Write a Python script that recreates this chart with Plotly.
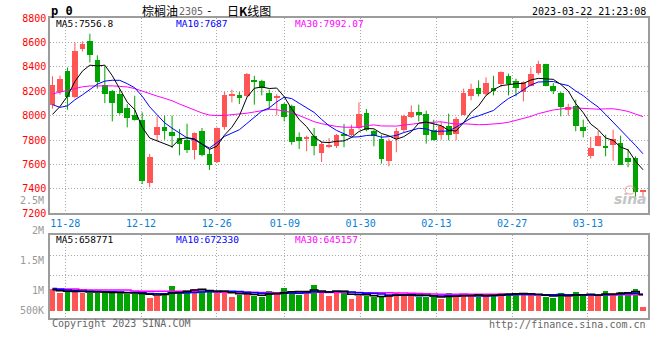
import plotly.graph_objects as go

# ---------------- data ----------------
tick_labels = ["11-28", "12-12", "12-26", "01-09", "01-30", "02-13", "02-27", "03-13"]
tick_index = [2, 12, 22, 31, 41, 51, 61, 71]   # candle index of each labelled date

open_ = [8090, 8194, 8368, 8150, 8545, 8614, 8458, 8253, 8204, 8180,
         8065, 8003, 7964, 7449, 7839, 7904, 7863, 7817, 7803, 7721,
         7872, 7686, 7618, 7904, 8163, 8172, 8158, 8294, 8286, 8185,
         8144, 8095, 8076, 7825, 7812, 7836, 7694, 7741, 7749, 7852,
         7839, 7899, 8022, 7872, 7812, 7631, 7812, 7880, 7986, 8027,
         8016, 7885, 7844, 7918, 7850, 8008, 8158, 8226, 8180, 8226,
         8259, 8327, 8286, 8194, 8245, 8349, 8425, 8245, 8185, 8049,
         8082, 7907, 7667, 7749, 7754, 7757, 7776, 7653, 7653, 7375]
high = [8322, 8327, 8395, 8600, 8608, 8671, 8494, 8404, 8210, 8213,
        8095, 8163, 8027, 7686, 7994, 8000, 8000, 7891, 7934, 7863,
        7899, 7727, 7904, 8194, 8213, 8194, 8349, 8327, 8294, 8213,
        8177, 8103, 8090, 7863, 7836, 7899, 7790, 7817, 7850, 7932,
        7926, 8109, 8054, 7885, 7844, 7812, 7899, 8008, 8084, 8090,
        8041, 7967, 7948, 8016, 7989, 8221, 8262, 8289, 8314, 8327,
        8363, 8344, 8303, 8281, 8395, 8450, 8425, 8267, 8194, 8098,
        8131, 7967, 7825, 7877, 7844, 7885, 7836, 7727, 7667, 7390]
low = [8057, 8172, 8049, 8145, 8526, 8436, 8221, 8103, 7953, 8008,
       7904, 7959, 7440, 7413, 7795, 7803, 7735, 7675, 7694, 7640,
       7667, 7555, 7612, 7885, 8109, 8095, 8150, 8090, 8166, 8054,
       8003, 7953, 7762, 7727, 7708, 7675, 7620, 7735, 7735, 7741,
       7831, 7885, 7872, 7749, 7607, 7585, 7700, 7866, 7981, 7953,
       7771, 7795, 7803, 7798, 7798, 8008, 8125, 8158, 8163, 8166,
       8232, 8166, 8158, 8117, 8240, 8335, 8240, 8177, 7994, 8000,
       7872, 7822, 7648, 7749, 7667, 7631, 7599, 7577, 7312, 7340]
close = [8248, 8303, 8150, 8532, 8589, 8494, 8273, 8180, 8101, 8022,
         7978, 7964, 7462, 7659, 7904, 7872, 7831, 7768, 7721, 7855,
         7675, 7599, 7899, 8172, 8180, 8144, 8344, 8281, 8226, 8117,
         8163, 7989, 7781, 7790, 7825, 7749, 7771, 7762, 7844, 7839,
         7891, 8016, 7885, 7831, 7648, 7795, 7872, 7994, 8030, 8003,
         7839, 7798, 7918, 7839, 7975, 8185, 8221, 8180, 8267, 8204,
         8357, 8259, 8226, 8273, 8344, 8425, 8245, 8199, 8068, 8071,
         7912, 7872, 7735, 7836, 7735, 7809, 7599, 7618, 7372, 7386]
volume_k = [870, 737, 817, 777, 737, 737, 737, 817, 710, 710,
            683, 683, 737, 536, 603, 737, 1018, 804, 804, 884,
            844, 777, 737, 737, 576, 643, 777, 603, 576, 804,
            737, 937, 817, 643, 777, 1058, 737, 616, 777, 777,
            482, 616, 616, 576, 603, 616, 737, 683, 643, 549,
            549, 576, 482, 737, 603, 683, 616, 576, 616, 683,
            737, 737, 683, 683, 643, 603, 576, 536, 737, 603,
            777, 603, 643, 603, 804, 737, 777, 737, 884, 160]

# moving-average values before enough history is in the window
ma5_head = [8010, 8075, 8160, 8280]
ma10_head = [8090, 8068, 8080, 8130, 8170, 8215, 8258, 8283, 8290]
ma30_head = [8178, 8192, 8208, 8225, 8236, 8243, 8245, 8245, 8244, 8240,
             8235, 8222, 8200, 8180, 8160, 8142, 8122, 8095, 8070, 8045,
             8022, 8005, 8000, 8002, 8006, 8012, 8020, 8030, 8040]
vma5_head = [850, 810, 790, 780]
vma10_head = [900, 870, 845, 820, 800, 790, 780, 775, 770]
vma30_head = [884, 884, 884, 880, 850, 848, 846, 845, 844, 842,
              840, 800, 798, 796, 794, 792, 790, 790, 790, 790,
              790, 790, 760, 758, 756, 754, 752, 750, 748]

# legend texts exactly as printed on the chart
price_ma_labels = ["MA5:7556.8", "MA10:7687", "MA30:7992.07"]
volume_ma_labels = ["MA5:658771", "MA10:672330", "MA30:645157"]
volume_axis_labels = ["2.5M", "2M", "1.5M", "1M", "500K"]


def moving_avg(vals, n, head):
    out = list(head)
    for i in range(len(head), len(vals)):
        w = vals[i - n + 1:i + 1]
        out.append(sum(w) / n)
    return out


N = len(close)
xs = list(range(N))
ma5 = moving_avg(close, 5, ma5_head)
ma10 = moving_avg(close, 10, ma10_head)
ma30 = moving_avg(close, 30, ma30_head)
vma5 = moving_avg(volume_k, 5, vma5_head)
vma10 = moving_avg(volume_k, 10, vma10_head)
vma30 = moving_avg(volume_k, 30, vma30_head)

RED = "#ff5555"
GREEN = "#00a400"
up = [c >= o for o, c in zip(open_, close)]

fig = go.Figure()

# wicks
for flag, col in ((True, RED), (False, GREEN)):
    wx, wy = [], []
    for i in xs:
        if up[i] == flag:
            wx += [i, i, None]
            wy += [low[i], high[i], None]
    fig.add_trace(go.Scatter(x=wx, y=wy, mode="lines", line=dict(color=col, width=1),
                             hoverinfo="skip", showlegend=False, xaxis="x", yaxis="y"))

# bodies
for flag, col in ((True, RED), (False, GREEN)):
    bx, bb, bh = [], [], []
    for i in xs:
        if up[i] == flag:
            lo = min(open_[i], close[i])
            hi = max(open_[i], close[i])
            bx.append(i)
            bb.append(lo)
            bh.append(max(hi - lo, 8))
    fig.add_trace(go.Bar(x=bx, y=bh, base=bb, width=0.76, marker=dict(color=col, line=dict(width=0)),
                         showlegend=False, xaxis="x", yaxis="y"))

# price moving averages
for vals, col in ((ma30, "#ff00ff"), (ma10, "#0000ff"), (ma5, "#000000")):
    fig.add_trace(go.Scatter(x=xs, y=vals, mode="lines", line=dict(color=col, width=1),
                             showlegend=False, xaxis="x", yaxis="y"))

# volume bars
fig.add_trace(go.Bar(x=xs, y=volume_k, width=0.76,
                     marker=dict(color=[RED if u else GREEN for u in up], line=dict(width=0)),
                     showlegend=False, xaxis="x2", yaxis="y2"))
for vals, col in ((vma30, "#ff00ff"), (vma10, "#0000ff"), (vma5, "#000000")):
    fig.add_trace(go.Scatter(x=xs, y=vals, mode="lines", line=dict(color=col, width=1.5, shape="hvh"),
                             showlegend=False, xaxis="x2", yaxis="y2"))

# ---------------- layout ----------------
W, H = 660, 360
ML, MR, MT, MB = 50, 10, 18, 42
PH = H - MT - MB
PX_PER_UNIT = 7.5
X0 = -1 / 3
X1 = X0 + (W - ML - MR) / PX_PER_UNIT
# Sina's date grid runs at 7.6 px per trading day from the first labelled date
grid_x = [(65.3 + 7.6 * (k - tick_index[0]) - ML) / PX_PER_UNIT + X0 for k in tick_index]


def py(ypx):
    return (H - MB - ypx) / PH


def pxx(xpx):
    return (xpx - ML) / (W - ML - MR)


GRID = "#a8a8a8"
FRAME = "#9c9c9c"
MONO = "DejaVu Sans Mono"
common_x = dict(range=[X0, X1], tickmode="array", tickvals=grid_x, showgrid=True,
                gridcolor=GRID, griddash="1px,2px", gridwidth=1, zeroline=False,
                showline=True, mirror=True, linecolor=FRAME, linewidth=1.5, ticks="")

fig.update_layout(
    width=W, height=H, margin=dict(l=ML, r=MR, t=MT, b=MB),
    paper_bgcolor="white", plot_bgcolor="white", barmode="overlay", bargap=0,
    xaxis=dict(domain=[0, 1], anchor="y", ticktext=tick_labels,
               tickfont=dict(family=MONO, size=10, color="#0a80d2"), **common_x),
    yaxis=dict(domain=[py(213.3), 1], range=[7200, 8800], dtick=200, tick0=7200,
               showgrid=True, gridcolor=GRID, griddash="1px,2px", zeroline=False,
               showline=True, mirror=True, linecolor=FRAME, linewidth=1.5, ticks="",
               ticklabelstandoff=0, tickfont=dict(family=MONO, size=10, color="#ff0000")),
    xaxis2=dict(domain=[0, 1], anchor="y2", matches="x", showticklabels=False, **common_x),
    yaxis2=dict(domain=[0, py(235)], range=[-281, 3055], tickmode="array", tickvals=[1447, 2223],
                showticklabels=False, showgrid=True, gridcolor=GRID, griddash="1px,2px",
                zeroline=False, showline=True, mirror=True, linecolor=FRAME, linewidth=1.5, ticks=""),
    showlegend=False,
)

ann = []


def text(x, y, s, color="#000", size=10, family=MONO, xanchor="left"):
    ann.append(dict(xref="paper", yref="paper", x=x, y=y, text=s, showarrow=False,
                    xanchor=xanchor, yanchor="middle", font=dict(family=family, size=size, color=color)))


CJK = "Noto Sans CJK SC"
# header
text(pxx(49), py(11), "<b>p 0</b>", size=12)
text(pxx(140), py(11), "棕榈油", size=12, family=CJK)
text(pxx(177), py(11.5), "2305", size=10, color="#666666")
text(pxx(205), py(11), "-", size=11)
text(pxx(226), py(11), "日<b>K</b>线图", size=12, family=CJK)
text(pxx(650), py(11.5), "2023-03-22 21:23:08", xanchor="right")

# MA legends
for lbl, xpx, col in zip(price_ma_labels, (54, 174, 294), ("#000000", "#0000ff", "#ff00ff")):
    text(pxx(xpx), py(23.5), lbl, size=9.5, color=col)
for lbl, xpx, col in zip(volume_ma_labels, (54, 174, 294), ("#000000", "#0000ff", "#ff00ff")):
    text(pxx(xpx), py(239.5), lbl, size=9.5, color=col)

# volume axis labels (grey, as drawn by Sina)
for lbl, ypx in zip(volume_axis_labels, (200.5, 230, 260.5, 290.7, 310.7)):
    text(pxx(46), py(ypx), lbl, color="#999999", xanchor="right")

# footer
text(pxx(50), py(323), "Copyright 2023 SINA.COM", color="#666666")
text(pxx(650), py(324), "http://finance.sina.com.cn", color="#666666", xanchor="right")

# watermark
text(pxx(651), py(199), "<b><i>sina</i></b>", color="#c4c4c4", size=14, family="DejaVu Sans", xanchor="right")
fig.add_shape(type="circle", xref="paper", yref="paper",
              x0=pxx(627), x1=pxx(637), y0=py(194), y1=py(186),
              line=dict(color="rgba(235,120,120,0.45)", width=1.5), fillcolor="rgba(0,0,0,0)")

fig.update_layout(annotations=ann)
fig.write_html("out.html", config={"displayModeBar": False},
               post_script="document.body.style.margin='0px';")
